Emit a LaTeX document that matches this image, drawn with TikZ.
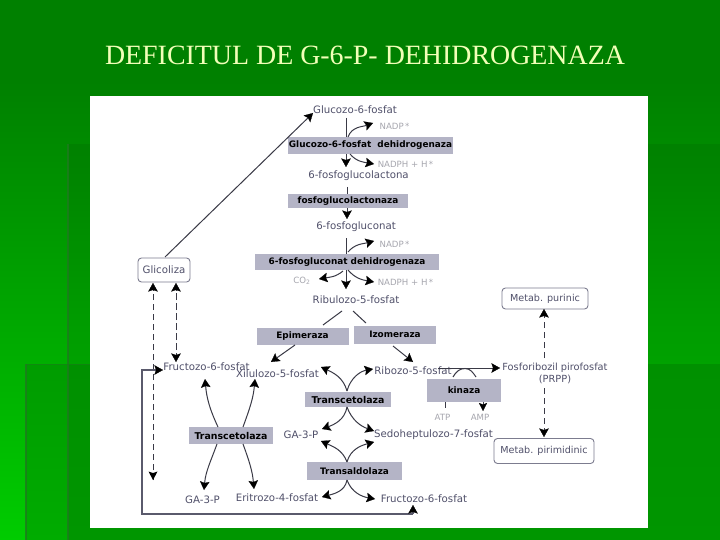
\documentclass[tikz,border=0pt]{standalone}
\usepackage{fontspec}
\setmainfont{DejaVu Sans}
\newfontfamily\titlefont{Liberation Serif}
\usetikzlibrary{arrows.meta,calc}
\definecolor{bgtop}{HTML}{008000}
\definecolor{bgbot}{HTML}{00CC00}
\definecolor{titlecol}{HTML}{F2FFB8}
\definecolor{txt}{HTML}{50506A}
\definecolor{faint}{HTML}{A6A6AE}
\definecolor{enz}{HTML}{B4B4C6}
\definecolor{lin}{HTML}{3A3A46}
\definecolor{seam}{HTML}{1E7A1E}
\definecolor{retcol}{HTML}{5A5A6C}
\tikzset{
  metab/.style={font=\fontsize{10.2}{12}\selectfont, text=txt, inner sep=0pt},
  cof/.style={font=\fontsize{8.6}{10}\selectfont, text=faint, inner sep=0pt},
  enzyme/.style={fill=enz, font=\fontsize{8.9}{10}\selectfont\bfseries, text=black, inner sep=0pt, anchor=center},
  rbox/.style={draw=txt!75, rounded corners=3.5pt, line width=0.9pt, font=\fontsize{9.6}{11}\selectfont, text=txt, fill=white, inner sep=0pt},
  blacktip/.style={-{Stealth[length=8.5pt,width=9.5pt,inset=1.5pt,color=black,fill=black,line width=0.2pt]}},
  arr/.style={draw=lin, line width=1pt, blacktip},
  arrs/.style={draw=lin, line width=1pt, -{Stealth[length=8pt,width=8pt,inset=1.5pt,color=black,fill=black,line width=0.2pt]}},
  plain/.style={draw=lin, line width=1pt},
  dasharr/.style={draw=lin, line width=1pt, dash pattern=on 6pt off 4pt, blacktip},
  seamline/.style={draw=seam, line width=2.4pt, opacity=0.8}
}
\begin{document}
\begin{tikzpicture}[x=1pt,y=-1pt]
\useasboundingbox (0,0) rectangle (720,540);
% background
\fill[bgtop] (0,0) rectangle (720,81);
\shade[top color=bgtop, bottom color=bgbot] (0,80) rectangle (720,540);
\fill[black, opacity=0.07] (68,144) rectangle (720,540);
\shade[top color={rgb,255:red,0;green,156;blue,0}, bottom color={rgb,255:red,0;green,172;blue,0}] (26,364) rectangle (68,540);
\shade[top color={rgb,255:red,0;green,144;blue,0}, bottom color={rgb,255:red,0;green,150;blue,0}] (68,364) rectangle (720,540);
\draw[seamline] (68,144) -- (68,540);
\draw[seamline] (26,364) -- (26,540);
\draw[draw=seam, line width=1pt, opacity=0.5] (26,364) -- (90,364);
\node[font=\titlefont\fontsize{27.9}{32}\selectfont, text=titlecol, inner sep=0pt] (title) at (365,55) {DEFICITUL DE G-6-P- DEHIDROGENAZA};
% white panel
\fill[white] (90,96) rectangle (648,528);
% enzymes
\node[enzyme, minimum width=165pt, minimum height=17pt] (e1) at (370.5,145.5) {Glucozo-6-fosfat\ \ dehidrogenaza};
\node[enzyme, minimum width=120pt, minimum height=14pt] (e2) at (348,201) {fosfoglucolactonaza};
\node[enzyme, minimum width=184pt, minimum height=16pt] (e3) at (347,262) {6-fosfogluconat dehidrogenaza};
\node[enzyme, minimum width=92pt, minimum height=17pt] (e4) at (302.5,336) {Epimeraza};
\node[enzyme, minimum width=82pt, minimum height=18pt] (e5) at (395,334.5) {Izomeraza};
\node[enzyme, font=\fontsize{9.4}{11}\selectfont\bfseries, minimum width=86pt, minimum height=15pt] (e6) at (348,399.5) {Transcetolaza};
\node[enzyme, font=\fontsize{9.4}{11}\selectfont\bfseries, minimum width=84pt, minimum height=17pt] (e7) at (231,435.5) {Transcetolaza};
\node[enzyme, minimum width=95pt, minimum height=18pt] (e8) at (354.5,471) {Transaldolaza};
\node[enzyme, minimum width=74pt, minimum height=23pt] (e9) at (464,390.5) {kinaza};
% metabolites
\node[metab] (g6p) at (355,110) {Glucozo-6-fosfat};
\node[metab] (pgl) at (358.5,176) {6-fosfoglucolactona};
\node[metab] (pg) at (356,227) {6-fosfogluconat};
\node[metab] (ru) at (356,300) {Ribulozo-5-fosfat};
\node[metab] (f6a) at (206.5,367) {Fructozo-6-fosfat};
\node[metab] (xu) at (277.5,374) {Xilulozo-5-fosfat};
\node[metab] (rib) at (413,371) {Ribozo-5-fosfat};
\node[metab] (ga1) at (301,435) {GA-3-P};
\node[metab] (sed) at (433.5,435) {Sedoheptulozo-7-fosfat};
\node[metab] (ga2) at (202.5,500) {GA-3-P};
\node[metab] (eri) at (277,498) {Eritrozo-4-fosfat};
\node[metab] (f6b) at (424,499) {Fructozo-6-fosfat};
\node[metab, font=\fontsize{9.8}{11.5}\selectfont, align=center] (prpp) at (555,373.5) {Fosforibozil pirofosfat\\[0pt](PRPP)};
\node[cof] (nadp1) at (394.5,126) {NADP\,*};
\node[cof] (nadph1) at (405.5,164) {NADPH + H\,*};
\node[cof] (nadp2) at (394.5,244) {NADP\,*};
\node[cof] (nadph2) at (405.5,282) {NADPH + H\,*};
\node[cof] (co2) at (302,281) {CO\textsubscript{2}};
\node[cof] (atp) at (442.5,417) {ATP};
\node[cof] (amp) at (480,417) {AMP};
% boxes
\node[rbox, font=\fontsize{10.2}{12}\selectfont, minimum width=52pt, minimum height=24pt] (gli) at (164,270) {Glicoliza};
\node[rbox, minimum width=86pt, minimum height=21pt] (pur) at (545,298.5) {Metab. purinic};
\node[rbox, minimum width=100pt, minimum height=25pt] (pir) at (544,451) {Metab. pirimidinic};
% free ends
\coordinate (gs) at (165,257);
\coordinate (g6w) at (313,113);
\coordinate (a1) at (346,118);\coordinate (a1b) at (346,167);
\coordinate (a2) at (347,187);\coordinate (a2b) at (347,219);
\coordinate (a3) at (346,238);\coordinate (a3b) at (346,289);
\coordinate (n1s) at (348,137);\coordinate (n1e) at (373,123);
\coordinate (n2s) at (350,154);\coordinate (n2e) at (374,164);
\coordinate (n3s) at (348,252);\coordinate (n3e) at (374,241);
\coordinate (n4s) at (348,270);\coordinate (n4e) at (374,282);
\coordinate (c2s) at (343,271);\coordinate (c2e) at (319,279);
\coordinate (rl1) at (342,311);\coordinate (rl2) at (323,325);
\coordinate (rr1) at (353,311);\coordinate (rr2) at (366,323);
\coordinate (xs) at (295,345);\coordinate (xt) at (271,362);
\coordinate (izs) at (393,346);\coordinate (rt) at (413,362);
\coordinate (ctop) at (347,391);\coordinate (cbot) at (347,407);
\coordinate (xa) at (321,367);\coordinate (rw) at (373,369);
\coordinate (ga1a) at (322,429);\coordinate (sea) at (374,431);
\coordinate (tatop) at (347,462);\coordinate (tabot) at (347,480);
\coordinate (gb) at (321,441);\coordinate (seb) at (374,442);
\coordinate (erb) at (322,497);\coordinate (fb) at (375,499);
\coordinate (t7nl) at (218,427);\coordinate (t7nr) at (243,427);
\coordinate (t7sl) at (217,444);\coordinate (t7sr) at (243,444);
\coordinate (f6t) at (205,379);\coordinate (xub) at (255,379);
\coordinate (gat) at (204,490);\coordinate (ert) at (254,489);
\coordinate (pp1) at (438,368);\coordinate (pp2) at (500,368);
\coordinate (ka) at (453,377);\coordinate (kt) at (465,368.5);\coordinate (kb) at (476,377);
\coordinate (as) at (445,402);\coordinate (ae) at (445,408);
\coordinate (ms) at (483,402);\coordinate (me) at (483,411);
\coordinate (pu1) at (544,358);\coordinate (pu2) at (544,309);
\coordinate (pi1) at (544,388);\coordinate (pi2) at (544,437);
\coordinate (g1s) at (153,480);\coordinate (g1t) at (153,283);
\coordinate (g2s) at (176,350);\coordinate (g2t) at (176,283);
\coordinate (g2u) at (176,293);\coordinate (g2d) at (176,362);
\coordinate (rb) at (413,514);\coordinate (rt2) at (413,505);\coordinate (rc) at (142,514);\coordinate (rd) at (142,370);\coordinate (re) at (163,370);
% long arrow
\draw[arr] (gs) -- (g6w);
% main chain
\draw[plain] (a1) -- (a1 |- e1.north);
\draw[arr] (a1 |- e1.south) -- (a1b);
\draw[plain] (a2) -- (a2 |- e2.north);
\draw[arr] (a2 |- e2.south) -- (a2b);
\draw[plain] (a3) -- (a3 |- e3.north);
\draw[arr] (a3 |- e3.south) -- (a3b);
% cofactors
\draw[arr] (n1s) to[out=70,in=200] (n1e);
\draw[arr] (n2s) to[out=-50,in=170] (n2e);
\draw[arr] (n3s) to[out=50,in=195] (n3e);
\draw[arr] (n4s) to[out=-50,in=170] (n4e);
\draw[arr] (c2s) to[out=-140,in=10] (c2e);
% ribulose split
\draw[plain] (rl1) -- (rl2);
\draw[plain] (rr1) -- (rr2);
\draw[arr] (xs) -- (xt);
\draw[arr] (izs) -- (rt);
% central transcetolase
\draw[arr] (ctop) to[out=105,in=-25] (xa);
\draw[arr] (ctop) to[out=75,in=190] (rw);
\draw[arr] (cbot) to[out=-100,in=20] (ga1a);
\draw[arr] (cbot) to[out=-70,in=160] (sea);
% transaldolase
\draw[arr] (tatop) to[out=110,in=-25] (gb);
\draw[arr] (tatop) to[out=75,in=195] (seb);
\draw[arr] (tabot) to[out=-100,in=15] (erb);
\draw[arr] (tabot) to[out=-70,in=170] (fb);
% left transcetolase
\draw[arr] (t7nl) to[out=115,in=-85] (f6t);
\draw[arr] (t7nr) to[out=70,in=-95] (xub);
\draw[arr] (t7sl) to[out=-110,in=85] (gat);
\draw[arr] (t7sr) to[out=-70,in=95] (ert);
% PRPP
\draw[arr] (pp1) -- (pp2);
\draw[plain] (ka) to[out=60,in=180] (kt) to[out=0,in=125] (kb);
\draw[plain] (as) -- (ae);
\draw[arrs] (ms) -- (me);
\draw[dasharr] (pu1) -- (pu2);
\draw[dasharr] (pi1) -- (pi2);
% glycolysis
\draw[dasharr] (g1s) -- (g1t);
\draw[dasharr] (g2s) -- (g2t);
\draw[dasharr] (g2u) -- (g2d);
\coordinate (g1e) at (153,480);
\fill[black] (g1e) -- ++(-4.5,-8.5) -- ++(4.5,1.5) -- ++(4.5,-1.5) -- cycle;
% return line
\draw[draw=retcol, line width=1.5pt, blacktip] (rb) -- (rc) -- (rd) -- (re);
\draw[draw=retcol, line width=1.5pt, blacktip] (rb) -- (rt2);
\end{tikzpicture}
\end{document}
